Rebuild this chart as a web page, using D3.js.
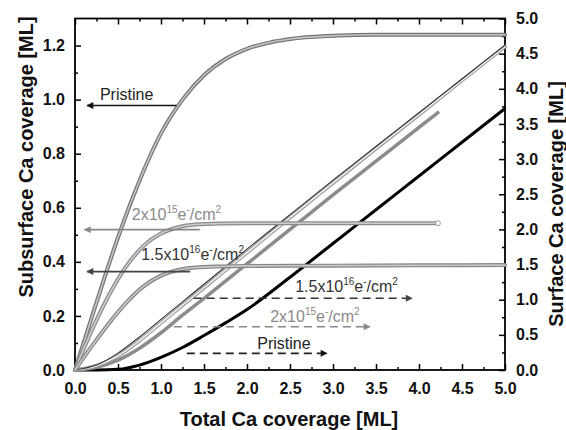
<!DOCTYPE html>
<html>
<head>
<meta charset="utf-8">
<script src="https://cdn.jsdelivr.net/npm/d3@7"></script>
<style>
body { margin: 0; background: #fff; }
text { font-family: "Liberation Sans", Arial, sans-serif; }
</style>
</head>
<body>
<div id="chart-area"></div>
<script>
// subsurface coverage (left axis)
var prsSubX = [0, 0.25, 0.5, 0.75, 1.0, 1.25, 1.5, 1.75, 2.0, 2.25, 2.5, 3.0, 3.5, 4.0, 5.0];
var prsSubY = [0, 0.25, 0.49, 0.70, 0.875, 1.0, 1.09, 1.15, 1.188, 1.21, 1.224, 1.236, 1.24, 1.24, 1.24];
var e15SubX = [0, 0.2, 0.4, 0.6, 0.8, 1.0, 1.2, 1.4, 1.7, 2.0, 3.0, 4.22];
var e15SubY = [0, 0.15, 0.28, 0.385, 0.46, 0.505, 0.528, 0.538, 0.542, 0.543, 0.543, 0.543];
var e16SubX = [0, 0.2, 0.4, 0.6, 0.8, 1.0, 1.2, 1.4, 1.7, 2.0, 3.0, 4.0, 5.0];
var e16SubY = [0, 0.09, 0.175, 0.25, 0.31, 0.349, 0.37, 0.379, 0.383, 0.385, 0.386, 0.387, 0.388];

// surface coverage (right axis)
var prsSurfX = [0, 0.25, 0.5, 0.75, 1.0, 1.25, 1.5, 1.75, 2.0, 2.5, 3.0, 3.5, 4.0, 4.5, 5.0];
var prsSurfY = [0, 0, 0.01, 0.07, 0.18, 0.32, 0.49, 0.67, 0.86, 1.32, 1.8, 2.28, 2.76, 3.24, 3.72];
var e15SurfX = [0, 0.25, 0.5, 0.75, 1.0, 1.25, 1.5, 2.0, 2.5, 3.0, 3.5, 4.0, 4.22];
var e15SurfY = [0, 0.04, 0.14, 0.31, 0.53, 0.78, 1.02, 1.51, 2.0, 2.49, 2.97, 3.45, 3.66];
var e16SurfX = [0, 0.25, 0.5, 0.75, 1.0, 1.25, 1.5, 2.0, 2.5, 3.0, 3.5, 4.0, 4.5, 5.0];
var e16SurfY = [0, 0.06, 0.2, 0.42, 0.67, 0.92, 1.17, 1.67, 2.17, 2.66, 3.15, 3.63, 4.12, 4.6];
var e16FitY  = [0, 0.07, 0.24, 0.47, 0.72, 0.97, 1.22, 1.72, 2.21, 2.7, 3.18, 3.66, 4.14, 4.62];

var xTicks = [0, 0.5, 1.0, 1.5, 2.0, 2.5, 3.0, 3.5, 4.0, 4.5, 5.0];
var leftTicks = [0, 0.2, 0.4, 0.6, 0.8, 1.0, 1.2];
var rightTicks = [0, 0.5, 1.0, 1.5, 2.0, 2.5, 3.0, 3.5, 4.0, 4.5, 5.0];

var width = 566, height = 430;
var pLeft = 75, pRight = 505, pTop = 18.5, pBottom = 370;

var svg = d3.select("#chart-area").append("svg")
	.attr("width", width)
	.attr("height", height);

svg.append("rect").attr("width", width).attr("height", height).attr("fill", "#fff");

var x = d3.scaleLinear().domain([0, 5]).range([pLeft, pRight]);
var yL = d3.scaleLinear().domain([0, 1.3]).range([pBottom, pTop]);
var yR = d3.scaleLinear().domain([0, 5]).range([pBottom, pTop]);

var defs = svg.append("defs");
function marker(id, color) {
	defs.append("marker")
		.attr("id", id)
		.attr("viewBox", "0 0 10 10")
		.attr("refX", 9).attr("refY", 5)
		.attr("markerUnits", "userSpaceOnUse")
		.attr("markerWidth", 9).attr("markerHeight", 7)
		.attr("orient", "auto")
		.append("path")
		.attr("d", "M0,0 L10,5 L0,10 z")
		.attr("fill", color);
}
marker("arBlack", "#111");
marker("arGray", "#888");
marker("arDark", "#444");

function styleAxis(g) {
	g.select(".domain").remove();
	g.selectAll("line").attr("stroke", "#000").attr("stroke-width", 1.5);
	g.selectAll("text")
		.attr("font-size", "16px")
		.attr("font-weight", "bold")
		.attr("fill", "#111")
		.attr("font-family", "'Liberation Sans', Arial, sans-serif");
}

var minorX = d3.range(0.25, 5, 0.5);
var minorL = d3.range(0.1, 1.3, 0.2);
var minorR = d3.range(0.25, 5, 0.5);

svg.append("g").attr("transform", "translate(0," + pBottom + ")")
	.call(d3.axisBottom(x).tickValues(xTicks).tickSize(-6).tickPadding(13).tickFormat(d3.format(".1f")))
	.call(styleAxis);
svg.append("g").attr("transform", "translate(0," + pBottom + ")")
	.call(d3.axisBottom(x).tickValues(minorX).tickSize(-3).tickFormat(""))
	.call(styleAxis);
svg.append("g").attr("transform", "translate(0," + pTop + ")")
	.call(d3.axisTop(x).tickValues(xTicks).tickSize(-6).tickFormat(""))
	.call(styleAxis);
svg.append("g").attr("transform", "translate(0," + pTop + ")")
	.call(d3.axisTop(x).tickValues(minorX).tickSize(-3).tickFormat(""))
	.call(styleAxis);
svg.append("g").attr("transform", "translate(" + pLeft + ",0)")
	.call(d3.axisLeft(yL).tickValues(leftTicks).tickSize(-6).tickPadding(10).tickFormat(d3.format(".1f")))
	.call(styleAxis);
svg.append("g").attr("transform", "translate(" + pLeft + ",0)")
	.call(d3.axisLeft(yL).tickValues(minorL).tickSize(-3).tickFormat(""))
	.call(styleAxis);
svg.append("g").attr("transform", "translate(" + pRight + ",0)")
	.call(d3.axisRight(yR).tickValues(rightTicks).tickSize(-6).tickPadding(11).tickFormat(d3.format(".1f")))
	.call(styleAxis);
svg.append("g").attr("transform", "translate(" + pRight + ",0)")
	.call(d3.axisRight(yR).tickValues(minorR).tickSize(-3).tickFormat(""))
	.call(styleAxis);

svg.append("rect")
	.attr("x", pLeft).attr("y", pTop)
	.attr("width", pRight - pLeft).attr("height", pBottom - pTop)
	.attr("fill", "none").attr("stroke", "#000").attr("stroke-width", 1.8);

function pts(xs, ys) { return xs.map(function(v, i) { return [v, ys[i]]; }); }
function lineFor(ys) {
	return d3.line().x(function(d) { return x(d[0]); }).y(function(d) { return ys(d[1]); }).curve(d3.curveMonotoneX);
}
var lineL = lineFor(yL), lineR = lineFor(yR);
var plot = svg.append("g");

function hollow(path, outer, inner, w) {
	plot.append("path").attr("d", path).attr("fill", "none")
		.attr("stroke", outer).attr("stroke-width", w).attr("stroke-linecap", "round");
	plot.append("path").attr("d", path).attr("fill", "none")
		.attr("stroke", inner).attr("stroke-width", w - 2.4).attr("stroke-linecap", "round");
}

// surface curves
plot.append("path").attr("d", lineR(pts(prsSurfX, prsSurfY))).attr("fill", "none")
	.attr("stroke", "#000").attr("stroke-width", 3);
plot.append("path").attr("d", lineR(pts(e15SurfX, e15SurfY))).attr("fill", "none")
	.attr("stroke", "#8c8c8c").attr("stroke-width", 3.5).attr("stroke-linecap", "round");
hollow(lineR(pts(e16SurfX, e16SurfY)), "#9a9a9a", "#f4f4f4", 3.8);
plot.append("path").attr("d", lineR(pts(e16SurfX, e16FitY))).attr("fill", "none")
	.attr("stroke", "#333").attr("stroke-width", 1.1);

// subsurface curves
hollow(lineL(pts(prsSubX, prsSubY)), "#747474", "#c4c4c4", 4);
hollow(lineL(pts(e15SubX, e15SubY)), "#8a8a8a", "#cdcdcd", 4);
hollow(lineL(pts(e16SubX, e16SubY)), "#858585", "#c8c8c8", 4);
plot.append("circle")
	.attr("cx", x(e15SubX[e15SubX.length - 1]))
	.attr("cy", yL(e15SubY[e15SubY.length - 1]))
	.attr("r", 2.5).attr("fill", "#fff").attr("stroke", "#999").attr("stroke-width", 1);

// arrows
function arrow(x1, y1, x2, y2, color, mk, dashed) {
	var l = svg.append("line")
		.attr("x1", x1).attr("y1", y1).attr("x2", x2).attr("y2", y2)
		.attr("stroke", color).attr("stroke-width", 1.6)
		.attr("marker-end", "url(#" + mk + ")");
	if (dashed) l.attr("stroke-dasharray", "8,5");
}
arrow(x(1.18), yL(0.978), x(0.14), yL(0.978), "#111", "arBlack", false);
arrow(x(1.45), yL(0.519), x(0.11), yL(0.519), "#888", "arGray", false);
arrow(x(1.34), yL(0.364), x(0.14), yL(0.364), "#444", "arDark", false);
arrow(x(1.38), yR(1.02), x(3.92), yR(1.02), "#333", "arDark", true);
arrow(x(1.15), yR(0.615), x(3.43), yR(0.615), "#888", "arGray", true);
arrow(x(1.3), yR(0.237), x(2.93), yR(0.237), "#222", "arBlack", true);

// labels
function dose(px, py, mant, exp, color) {
	var t = svg.append("text").attr("x", px).attr("y", py)
		.attr("font-size", "16px").attr("fill", color);
	t.append("tspan").text(mant);
	t.append("tspan").attr("font-size", "10px").attr("dy", -7).text(exp);
	t.append("tspan").attr("dy", 7).text("e");
	t.append("tspan").attr("font-size", "10px").attr("dy", -7).text("-");
	t.append("tspan").attr("dy", 7).text("/cm");
	t.append("tspan").attr("font-size", "10px").attr("dy", -7).text("2");
}
svg.append("text").attr("x", x(0.29)).attr("y", yL(1.0))
	.attr("font-size", "16px").attr("fill", "#222").text("Pristine");
dose(x(0.66), yL(0.556), "2x10", "15", "#8a8a8a");
dose(x(0.77), yL(0.407), "1.5x10", "16", "#333");
dose(x(2.56), yR(1.11), "1.5x10", "16", "#333");
dose(x(2.27), yR(0.68), "2x10", "15", "#8a8a8a");
svg.append("text").attr("x", x(2.12)).attr("y", yR(0.30))
	.attr("font-size", "16px").attr("fill", "#222").text("Pristine");

// axis titles
svg.append("text")
	.attr("x", (pLeft + pRight) / 2 - 1).attr("y", 426)
	.attr("text-anchor", "middle")
	.attr("font-size", "20px").attr("font-weight", "bold").attr("fill", "#111")
	.text("Total Ca coverage [ML]");
svg.append("text")
	.attr("transform", "translate(33,157) rotate(-90)")
	.attr("text-anchor", "middle")
	.attr("font-size", "20px").attr("font-weight", "bold").attr("fill", "#111")
	.text("Subsurface Ca coverage [ML]");
svg.append("text")
	.attr("transform", "translate(563,204) rotate(-90)")
	.attr("text-anchor", "middle")
	.attr("font-size", "20px").attr("font-weight", "bold").attr("fill", "#111")
	.text("Surface Ca coverage [ML]");
</script>
</body>
</html>
